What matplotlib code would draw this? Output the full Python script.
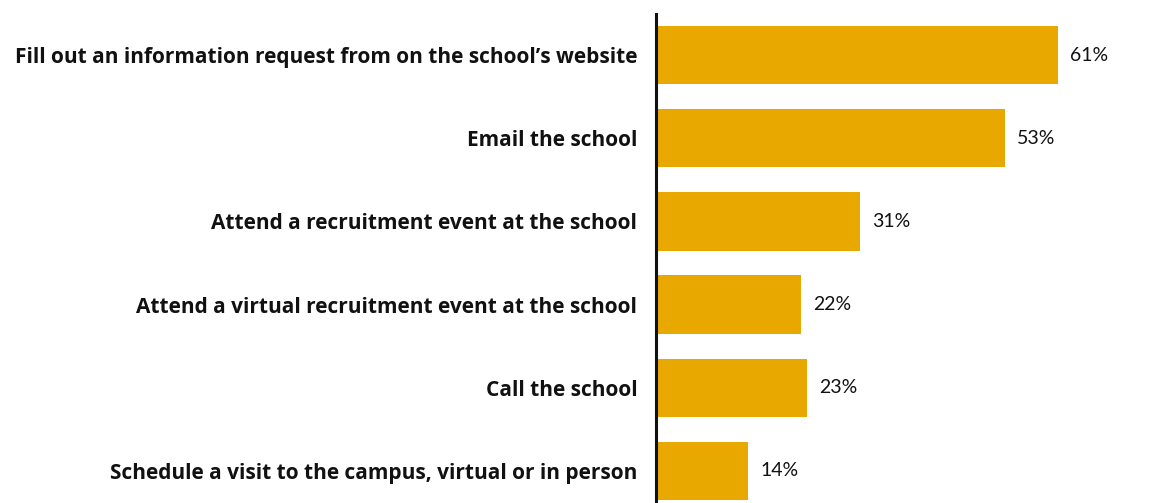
import matplotlib.pyplot as plt
import numpy as np

categories = [
    "Fill out an information request from on the school\u2019s website",
    "Email the school",
    "Attend a recruitment event at the school",
    "Attend a virtual recruitment event at the school",
    "Call the school",
    "Schedule a visit to the campus, virtual or in person",
]
values = [61, 53, 31, 22, 23, 14]

BAR_COLOR = "#E8A800"

fig = plt.figure(figsize=(11.75, 5.03), dpi=100)
ax = fig.add_axes([656 / 1175, 0.0, 1 - 656 / 1175, 489 / 503])

y = np.arange(len(categories))
ax.barh(y, values, height=0.70, color=BAR_COLOR, zorder=2)

for yi, v in zip(y, values):
    ax.text(v + 1.8, yi, f"{v}%", va="center", ha="left",
            fontsize=14, family="Lato", color="#111111")

ax.set_xlim(0, 78.8)
ax.set_ylim(5.385, -0.493)
ax.set_yticks(y)
ax.set_yticklabels(categories, fontsize=15, fontweight="bold",
                   family="Open Sans", color="#111111")
ax.tick_params(axis="y", length=0, pad=13.5)
ax.set_xticks([])

for side in ["top", "right", "bottom"]:
    ax.spines[side].set_visible(False)
ax.spines["left"].set_linewidth(2.2)
ax.spines["left"].set_color("#111111")

fig.savefig("out.png", dpi=100)
